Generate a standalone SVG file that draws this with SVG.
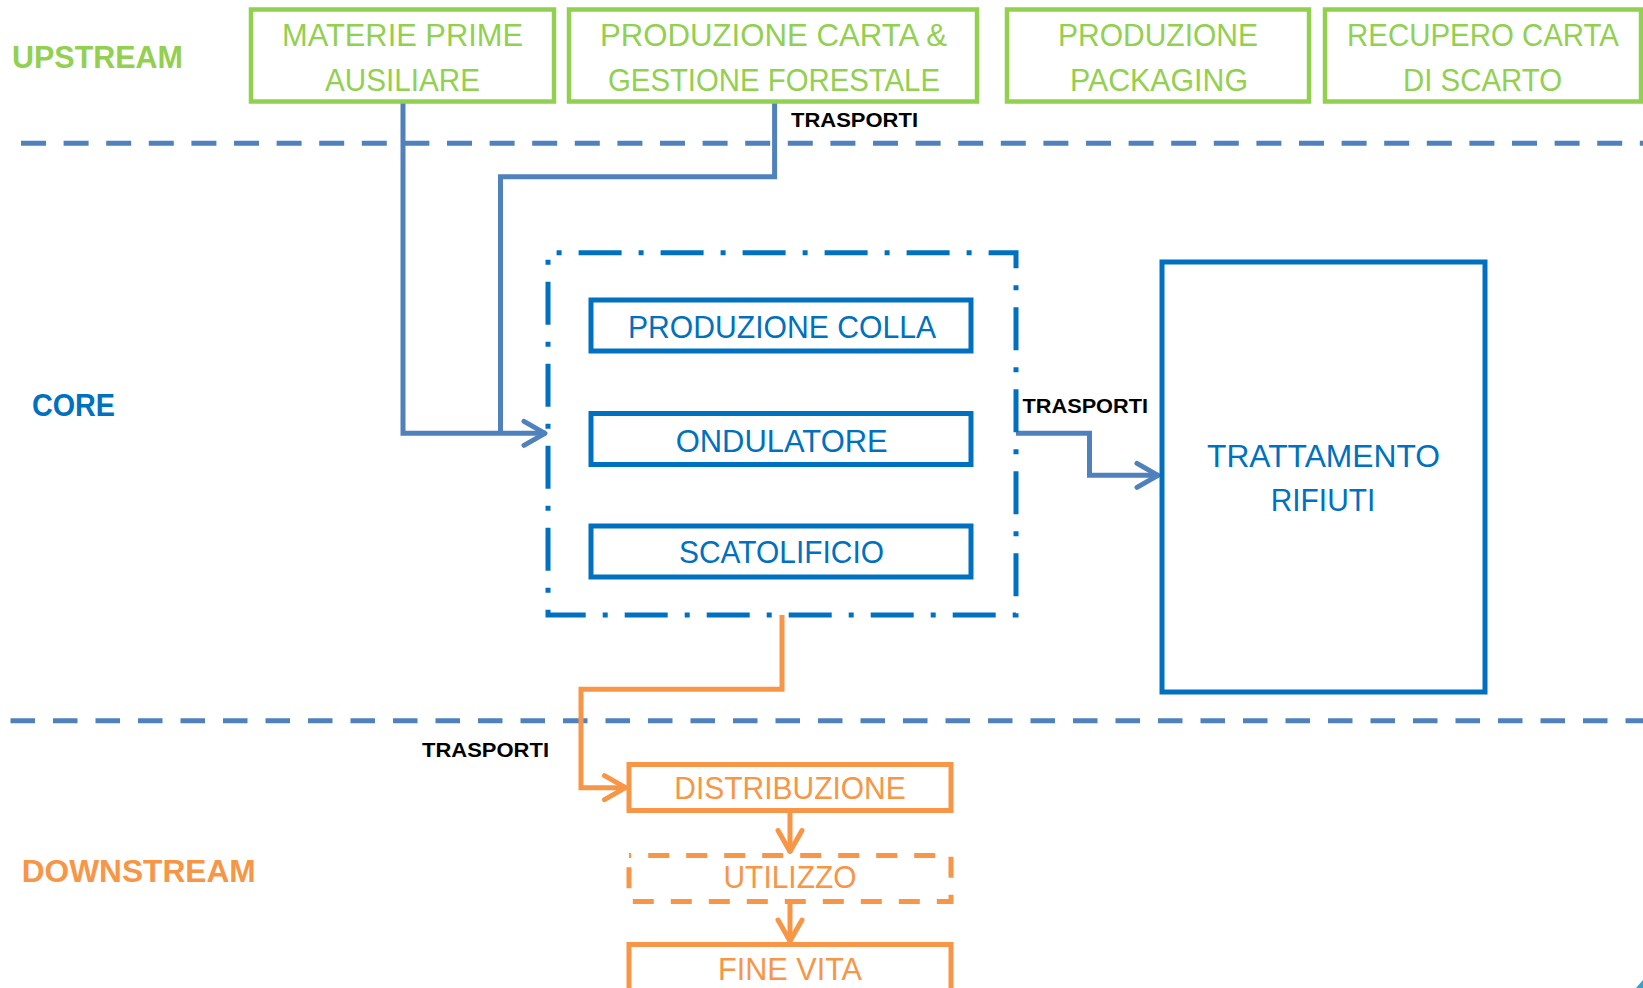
<svg xmlns="http://www.w3.org/2000/svg" width="1643" height="988" viewBox="0 0 1643 988">
<style>
text{font-family:"Liberation Sans",Arial,sans-serif}
.lbl{font-size:31px;font-weight:bold}
.t{font-size:31px;text-anchor:middle}
.tr{font-size:20px;font-weight:bold;fill:#000}
.g{fill:#92D050}
.b{fill:#0070C0}
.o{fill:#F79646}
.gb{fill:#fff;stroke:#92D050;stroke-width:4.5}
.bb{fill:#fff;stroke:#0070C0;stroke-width:5}
.ob{fill:#fff;stroke:#F79646;stroke-width:5}
.sep{stroke:#4F81BD;stroke-width:5;fill:none}
.cb{fill:none;stroke:#4F81BD;stroke-width:5}
.co{fill:none;stroke:#F79646;stroke-width:5}
</style>
<defs>
<marker id="ab" markerUnits="userSpaceOnUse" viewBox="-28 -16 32 32" refX="0" refY="0" markerWidth="32" markerHeight="32" orient="auto">
<path d="M-22,-12 L-1,0 L-22,12" fill="none" stroke="#4F81BD" stroke-width="5" stroke-linecap="round" stroke-linejoin="round"/>
</marker>
<marker id="ao" markerUnits="userSpaceOnUse" viewBox="-28 -16 32 32" refX="0" refY="0" markerWidth="32" markerHeight="32" orient="auto">
<path d="M-22,-12 L-1,0 L-22,12" fill="none" stroke="#F79646" stroke-width="5" stroke-linecap="round" stroke-linejoin="round"/>
</marker>
</defs>

<g id="separators">
<line class="sep" x1="21" y1="143.3" x2="1643" y2="143.3" stroke-dasharray="25 17.6"/>
<line class="sep" x1="10.5" y1="720.7" x2="1643" y2="720.7" stroke-dasharray="24.5 18"/>
</g>

<g id="labels">
<text class="lbl g" x="12" y="68" textLength="171" lengthAdjust="spacingAndGlyphs">UPSTREAM</text>
<text class="lbl b" x="32" y="415.7" textLength="83" lengthAdjust="spacingAndGlyphs">CORE</text>
<text class="lbl o" x="21.7" y="881.7" textLength="234" lengthAdjust="spacingAndGlyphs">DOWNSTREAM</text>
</g>

<g id="connectors">
<path class="cb" d="M403,101.7 V433.3 H546" marker-end="url(#ab)"/>
<path class="cb" d="M774.6,101.7 V176.7 H500.5 V433.3"/>
<path class="cb" d="M1016,433.3 H1089.5 V475.3 H1159" marker-end="url(#ab)"/>
<path class="co" d="M782,615 V689.3 H581 V787.7 H626.5" marker-end="url(#ao)"/>
<path class="co" d="M790,810.7 V852.5" marker-end="url(#ao)"/>
<path class="co" d="M790,901.7 V942" marker-end="url(#ao)"/>
<text class="tr" x="791" y="127.3" textLength="127" lengthAdjust="spacingAndGlyphs">TRASPORTI</text>
<text class="tr" x="1022.5" y="413.3" textLength="125.5" lengthAdjust="spacingAndGlyphs">TRASPORTI</text>
<text class="tr" x="422" y="757.3" textLength="127" lengthAdjust="spacingAndGlyphs">TRASPORTI</text>
</g>

<g id="materie-prime">
<rect class="gb" x="251" y="9.5" width="303" height="92"/>
<text class="t g" x="402.5" y="45.7" textLength="241" lengthAdjust="spacingAndGlyphs">MATERIE PRIME</text>
<text class="t g" x="402.5" y="90.7" textLength="155" lengthAdjust="spacingAndGlyphs">AUSILIARE</text>
</g>
<g id="produzione-carta">
<rect class="gb" x="569" y="9.5" width="408" height="92"/>
<text class="t g" x="773.5" y="45.7" textLength="347" lengthAdjust="spacingAndGlyphs">PRODUZIONE CARTA &amp;</text>
<text class="t g" x="774" y="90.7" textLength="332" lengthAdjust="spacingAndGlyphs">GESTIONE FORESTALE</text>
</g>
<g id="produzione-packaging">
<rect class="gb" x="1007" y="9.5" width="302" height="92"/>
<text class="t g" x="1158" y="45.7" textLength="200" lengthAdjust="spacingAndGlyphs">PRODUZIONE</text>
<text class="t g" x="1159" y="90.7" textLength="178" lengthAdjust="spacingAndGlyphs">PACKAGING</text>
</g>
<g id="recupero-carta">
<rect class="gb" x="1325" y="9.5" width="316" height="92"/>
<text class="t g" x="1483" y="45.7" textLength="272" lengthAdjust="spacingAndGlyphs">RECUPERO CARTA</text>
<text class="t g" x="1482.5" y="90.7" textLength="159" lengthAdjust="spacingAndGlyphs">DI SCARTO</text>
</g>

<g id="core-group">
<rect x="548" y="252.7" width="468" height="362.3" fill="none" stroke="#0070C0" stroke-width="5" stroke-dasharray="43 17 5 17" stroke-dashoffset="51.4"/>
</g>
<g id="produzione-colla">
<rect class="bb" x="591" y="300" width="380" height="51"/>
<text class="t b" x="782" y="338.3" textLength="308" lengthAdjust="spacingAndGlyphs">PRODUZIONE COLLA</text>
</g>
<g id="ondulatore">
<rect class="bb" x="591" y="413.5" width="380" height="51"/>
<text class="t b" x="781.7" y="451.7" textLength="212" lengthAdjust="spacingAndGlyphs">ONDULATORE</text>
</g>
<g id="scatolificio">
<rect class="bb" x="591" y="526" width="380" height="51"/>
<text class="t b" x="781.5" y="563" textLength="205" lengthAdjust="spacingAndGlyphs">SCATOLIFICIO</text>
</g>
<g id="trattamento-rifiuti">
<rect class="bb" x="1162" y="262" width="323" height="430"/>
<text class="t b" x="1323.5" y="466.7" textLength="233" lengthAdjust="spacingAndGlyphs">TRATTAMENTO</text>
<text class="t b" x="1323" y="510.7" textLength="104.5" lengthAdjust="spacingAndGlyphs">RIFIUTI</text>
</g>

<g id="distribuzione">
<rect class="ob" x="629" y="764.5" width="322" height="46"/>
<text class="t o" x="790" y="799.3" textLength="231.5" lengthAdjust="spacingAndGlyphs">DISTRIBUZIONE</text>
</g>
<g id="utilizzo">
<rect class="ob" x="629" y="855.5" width="322" height="46" stroke-dasharray="21 17" stroke-dashoffset="18.8"/>
<text class="t o" x="790" y="888.3" textLength="133" lengthAdjust="spacingAndGlyphs">UTILIZZO</text>
</g>
<g id="fine-vita">
<rect class="ob" x="629" y="944.5" width="322" height="60"/>
<text class="t o" x="790" y="980" textLength="144" lengthAdjust="spacingAndGlyphs">FINE VITA</text>
</g>

<polygon points="1636,988 1643,980 1643,988" fill="#31A5C7"/>
</svg>
